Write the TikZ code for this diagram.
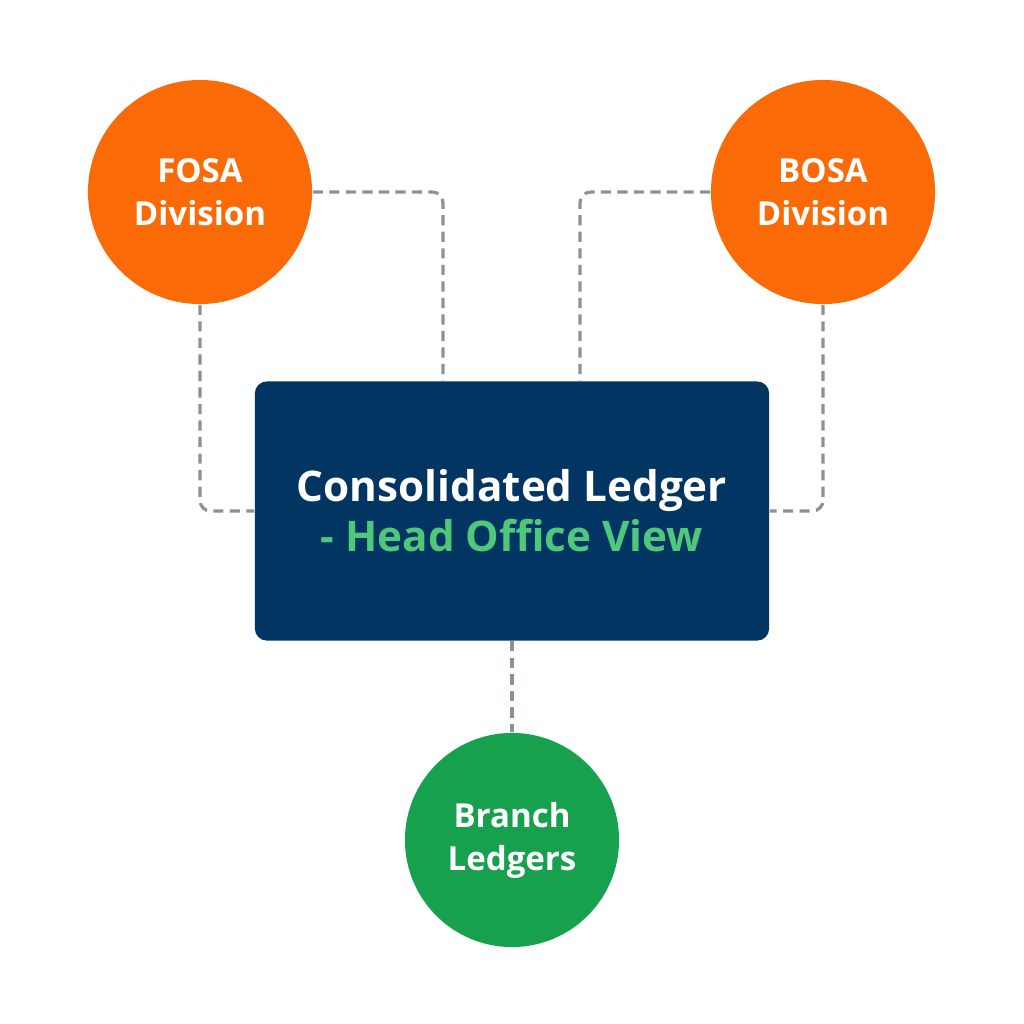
\documentclass[tikz,border=0pt]{standalone}
\usepackage{fontspec}
\setmainfont{Open Sans}
\usepackage{tikz}
\usetikzlibrary{positioning,calc}
\definecolor{navy}{HTML}{033563}
\definecolor{orange}{HTML}{FA6A07}
\definecolor{leafgreen}{HTML}{17A04E}
\definecolor{mint}{HTML}{4FC87C}
\definecolor{dashgray}{HTML}{8C929A}

\begin{document}
\begin{tikzpicture}[x=0.01cm,y=-0.01cm,
    division/.style={circle,fill=orange,text=white,minimum size=2.24cm,inner sep=0pt,
      align=center,font=\bfseries\fontsize{9.4pt}{12.2pt}\selectfont},
    link/.style={draw=dashgray,line width=0.9pt,dash pattern=on 2.9pt off 1.8pt,rounded corners=3pt}]
  \useasboundingbox[fill=white] (0,0) rectangle (1024,1024);
  \node[division] (fosa) at (200,192) {FOSA\\Division};
  \node[division] (bosa) at (823,192) {BOSA\\Division};
  \node[draw=none,fill=navy,rounded corners=0.12cm,minimum width=5.14cm,minimum height=2.59cm,
    align=center,text=white,font=\bfseries\fontsize{12pt}{14.3pt}\selectfont] (ledger) at (512,511)
    {Consolidated Ledger\\\textcolor{mint}{- Head Office View}};
  \node[division,fill=leafgreen,minimum size=2.14cm] (branch) at (512,840) {Branch\\Ledgers};
  % dashed links into the ledger
  \draw[link] (fosa.east) -| ([xshift=-0.69cm]ledger.north);
  \draw[link] (fosa.south) |- (ledger.west);
  \draw[link] (bosa.west) -| ([xshift=0.68cm]ledger.north);
  \draw[link] (bosa.south) |- (ledger.east);
  \draw[link] (ledger.south) -- (branch.north);
\end{tikzpicture}
\end{document}
